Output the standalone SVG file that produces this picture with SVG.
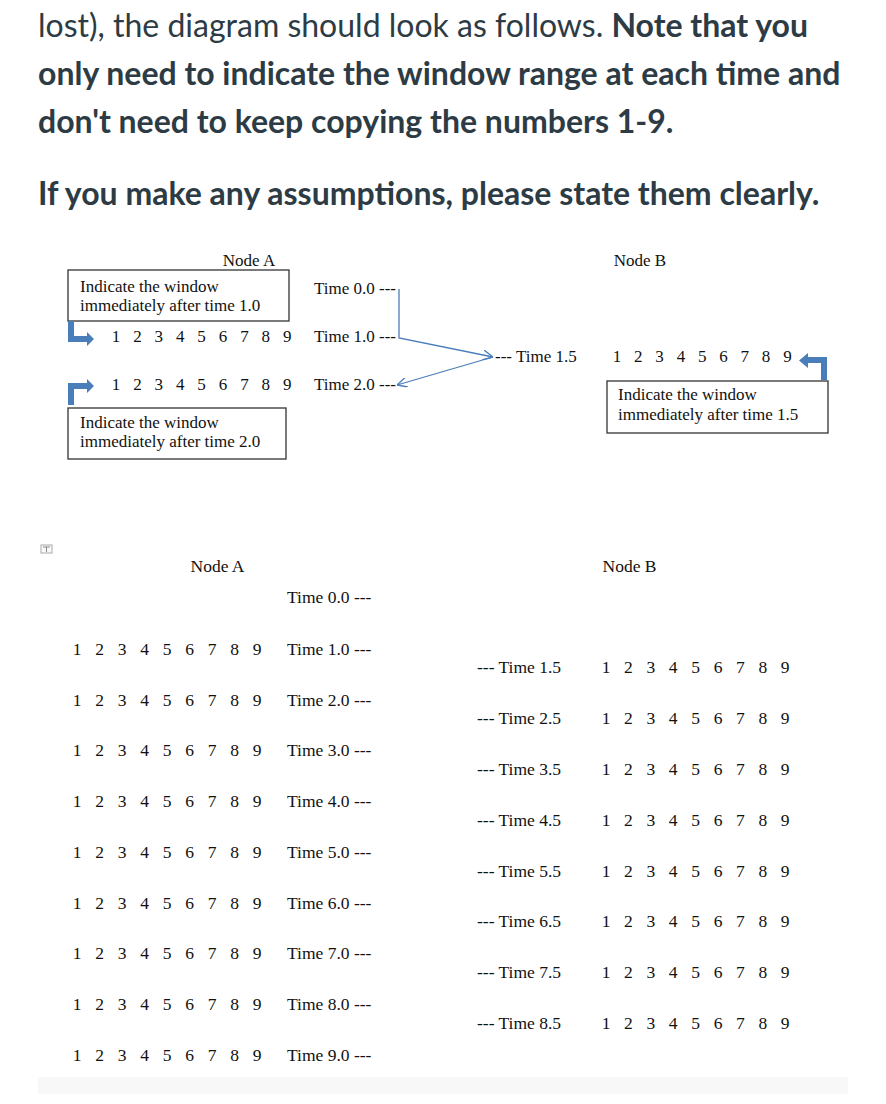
<svg xmlns="http://www.w3.org/2000/svg" width="886" height="1104" viewBox="0 0 886 1104">
<defs>
<style>
.p{font-family:Lato,"Noto Sans",sans-serif;font-size:32px;fill:#2d3b45}
.b{font-weight:bold}
.t{font-family:"Liberation Serif","Times New Roman",serif;font-size:17px;fill:#111}
.t2{font-family:"Liberation Serif","Times New Roman",serif;font-size:17.5px;fill:#111}
.box{fill:#fff;stroke:#333;stroke-width:1.3}
.conn{fill:none;stroke:#4a7ebb;stroke-width:1.3}
.bent{fill:#4a7ebb}
</style>
<marker id="open" viewBox="0 0 10 10" refX="10" refY="5" markerWidth="10" markerHeight="10" markerUnits="userSpaceOnUse" orient="auto">
<path d="M0,0 L10,5 L0,10" fill="none" stroke="#4a7ebb" stroke-width="1.3"/>
</marker>
</defs>
<rect width="886" height="1104" fill="#fff"/>

<g id="intro">
<text class="p" x="38" y="37">lost), the diagram should look as follows. <tspan class="b">Note that you</tspan></text>
<text class="p b" x="38" y="85">only need to indicate the window range at each time and</text>
<text class="p b" x="38" y="133">don't need to keep copying the numbers 1-9.</text>
<text class="p b" x="38" y="205">If you make any assumptions, please state them clearly.</text>
</g>

<g id="top-nodeA">
<text class="t" x="249" y="266" text-anchor="middle">Node A</text>
<text class="t" x="314" y="294">Time 0.0 ---</text>
<text class="t" x="314" y="342">Time 1.0 ---</text>
<text class="t" x="314" y="390">Time 2.0 ---</text>
<g text-anchor="middle">
<text class="t" y="342"><tspan x="116">1</tspan><tspan x="137.4">2</tspan><tspan x="158.8">3</tspan><tspan x="180.2">4</tspan><tspan x="201.6">5</tspan><tspan x="223">6</tspan><tspan x="244.4">7</tspan><tspan x="265.8">8</tspan><tspan x="287.2">9</tspan></text>
<text class="t" y="390"><tspan x="116">1</tspan><tspan x="137.4">2</tspan><tspan x="158.8">3</tspan><tspan x="180.2">4</tspan><tspan x="201.6">5</tspan><tspan x="223">6</tspan><tspan x="244.4">7</tspan><tspan x="265.8">8</tspan><tspan x="287.2">9</tspan></text>
</g>
</g>

<g id="box-1-0">
<rect class="box" x="68" y="270" width="221" height="51"/>
<text class="t" x="80" y="292">Indicate the window</text>
<text class="t" x="80" y="311">immediately after time 1.0</text>
</g>

<g id="box-2-0">
<rect class="box" x="68" y="408" width="218" height="51"/>
<text class="t" x="80" y="428">Indicate the window</text>
<text class="t" x="80" y="447">immediately after time 2.0</text>
</g>

<g id="top-nodeB">
<text class="t" x="640" y="266" text-anchor="middle">Node B</text>
<text class="t" x="495" y="362">--- Time 1.5</text>
<text class="t" y="362" text-anchor="middle"><tspan x="617">1</tspan><tspan x="638.3">2</tspan><tspan x="659.6">3</tspan><tspan x="680.9">4</tspan><tspan x="702.2">5</tspan><tspan x="723.5">6</tspan><tspan x="744.8">7</tspan><tspan x="766.1">8</tspan><tspan x="787.4">9</tspan></text>
</g>

<g id="box-1-5">
<rect class="box" x="607" y="381" width="221" height="52"/>
<text class="t" x="618" y="400">Indicate the window</text>
<text class="t" x="618" y="420">immediately after time 1.5</text>
</g>

<g id="connectors">
<path class="conn" d="M399,289 V338 L493,357" marker-end="url(#open)"/>
<path class="conn" d="M493,357 L397,385" marker-end="url(#open)"/>
<path class="bent" d="M68,321 H74 V336 H87 V332 L94,339 L87,346 V342 H68 Z"/>
<path class="bent" d="M68,405 V383 H87 V379 L94,386 L87,393 V389 H74 V405 Z"/>
<path class="bent" d="M827,380 H821 V363 H808 V368 L799,360.5 L808,353 V357 H827 Z"/>
</g>

<g id="move-icon">
<rect x="41" y="545" width="11" height="8" fill="#fafafa" stroke="#aaa" stroke-width="1"/>
<path d="M43,547 H50 M46.5,547 V552" stroke="#888" stroke-width="1"/>
</g>

<g id="bottom-nodeA">
<text class="t2" x="217.5" y="572" text-anchor="middle">Node A</text>
<text class="t2" x="287" y="603">Time 0.0 ---</text>
<text class="t2" x="287" y="655">Time 1.0 ---</text>
<text class="t2" x="287" y="706">Time 2.0 ---</text>
<text class="t2" x="287" y="756">Time 3.0 ---</text>
<text class="t2" x="287" y="807">Time 4.0 ---</text>
<text class="t2" x="287" y="858">Time 5.0 ---</text>
<text class="t2" x="287" y="909">Time 6.0 ---</text>
<text class="t2" x="287" y="959">Time 7.0 ---</text>
<text class="t2" x="287" y="1010">Time 8.0 ---</text>
<text class="t2" x="287" y="1061">Time 9.0 ---</text>
<g text-anchor="middle">
<text class="t2" y="655"><tspan x="77">1</tspan><tspan x="99.5">2</tspan><tspan x="122">3</tspan><tspan x="144.5">4</tspan><tspan x="167">5</tspan><tspan x="189.5">6</tspan><tspan x="212">7</tspan><tspan x="234.5">8</tspan><tspan x="257">9</tspan></text>
<text class="t2" y="706"><tspan x="77">1</tspan><tspan x="99.5">2</tspan><tspan x="122">3</tspan><tspan x="144.5">4</tspan><tspan x="167">5</tspan><tspan x="189.5">6</tspan><tspan x="212">7</tspan><tspan x="234.5">8</tspan><tspan x="257">9</tspan></text>
<text class="t2" y="756"><tspan x="77">1</tspan><tspan x="99.5">2</tspan><tspan x="122">3</tspan><tspan x="144.5">4</tspan><tspan x="167">5</tspan><tspan x="189.5">6</tspan><tspan x="212">7</tspan><tspan x="234.5">8</tspan><tspan x="257">9</tspan></text>
<text class="t2" y="807"><tspan x="77">1</tspan><tspan x="99.5">2</tspan><tspan x="122">3</tspan><tspan x="144.5">4</tspan><tspan x="167">5</tspan><tspan x="189.5">6</tspan><tspan x="212">7</tspan><tspan x="234.5">8</tspan><tspan x="257">9</tspan></text>
<text class="t2" y="858"><tspan x="77">1</tspan><tspan x="99.5">2</tspan><tspan x="122">3</tspan><tspan x="144.5">4</tspan><tspan x="167">5</tspan><tspan x="189.5">6</tspan><tspan x="212">7</tspan><tspan x="234.5">8</tspan><tspan x="257">9</tspan></text>
<text class="t2" y="909"><tspan x="77">1</tspan><tspan x="99.5">2</tspan><tspan x="122">3</tspan><tspan x="144.5">4</tspan><tspan x="167">5</tspan><tspan x="189.5">6</tspan><tspan x="212">7</tspan><tspan x="234.5">8</tspan><tspan x="257">9</tspan></text>
<text class="t2" y="959"><tspan x="77">1</tspan><tspan x="99.5">2</tspan><tspan x="122">3</tspan><tspan x="144.5">4</tspan><tspan x="167">5</tspan><tspan x="189.5">6</tspan><tspan x="212">7</tspan><tspan x="234.5">8</tspan><tspan x="257">9</tspan></text>
<text class="t2" y="1010"><tspan x="77">1</tspan><tspan x="99.5">2</tspan><tspan x="122">3</tspan><tspan x="144.5">4</tspan><tspan x="167">5</tspan><tspan x="189.5">6</tspan><tspan x="212">7</tspan><tspan x="234.5">8</tspan><tspan x="257">9</tspan></text>
<text class="t2" y="1061"><tspan x="77">1</tspan><tspan x="99.5">2</tspan><tspan x="122">3</tspan><tspan x="144.5">4</tspan><tspan x="167">5</tspan><tspan x="189.5">6</tspan><tspan x="212">7</tspan><tspan x="234.5">8</tspan><tspan x="257">9</tspan></text>
</g>
</g>

<g id="bottom-nodeB">
<text class="t2" x="629.5" y="572" text-anchor="middle">Node B</text>
<text class="t2" x="477" y="673">--- Time 1.5</text>
<text class="t2" x="477" y="724">--- Time 2.5</text>
<text class="t2" x="477" y="775">--- Time 3.5</text>
<text class="t2" x="477" y="826">--- Time 4.5</text>
<text class="t2" x="477" y="877">--- Time 5.5</text>
<text class="t2" x="477" y="927">--- Time 6.5</text>
<text class="t2" x="477" y="978">--- Time 7.5</text>
<text class="t2" x="477" y="1029">--- Time 8.5</text>
<g text-anchor="middle">
<text class="t2" y="673"><tspan x="606">1</tspan><tspan x="628.4">2</tspan><tspan x="650.8">3</tspan><tspan x="673.2">4</tspan><tspan x="695.6">5</tspan><tspan x="718">6</tspan><tspan x="740.4">7</tspan><tspan x="762.8">8</tspan><tspan x="785.2">9</tspan></text>
<text class="t2" y="724"><tspan x="606">1</tspan><tspan x="628.4">2</tspan><tspan x="650.8">3</tspan><tspan x="673.2">4</tspan><tspan x="695.6">5</tspan><tspan x="718">6</tspan><tspan x="740.4">7</tspan><tspan x="762.8">8</tspan><tspan x="785.2">9</tspan></text>
<text class="t2" y="775"><tspan x="606">1</tspan><tspan x="628.4">2</tspan><tspan x="650.8">3</tspan><tspan x="673.2">4</tspan><tspan x="695.6">5</tspan><tspan x="718">6</tspan><tspan x="740.4">7</tspan><tspan x="762.8">8</tspan><tspan x="785.2">9</tspan></text>
<text class="t2" y="826"><tspan x="606">1</tspan><tspan x="628.4">2</tspan><tspan x="650.8">3</tspan><tspan x="673.2">4</tspan><tspan x="695.6">5</tspan><tspan x="718">6</tspan><tspan x="740.4">7</tspan><tspan x="762.8">8</tspan><tspan x="785.2">9</tspan></text>
<text class="t2" y="877"><tspan x="606">1</tspan><tspan x="628.4">2</tspan><tspan x="650.8">3</tspan><tspan x="673.2">4</tspan><tspan x="695.6">5</tspan><tspan x="718">6</tspan><tspan x="740.4">7</tspan><tspan x="762.8">8</tspan><tspan x="785.2">9</tspan></text>
<text class="t2" y="927"><tspan x="606">1</tspan><tspan x="628.4">2</tspan><tspan x="650.8">3</tspan><tspan x="673.2">4</tspan><tspan x="695.6">5</tspan><tspan x="718">6</tspan><tspan x="740.4">7</tspan><tspan x="762.8">8</tspan><tspan x="785.2">9</tspan></text>
<text class="t2" y="978"><tspan x="606">1</tspan><tspan x="628.4">2</tspan><tspan x="650.8">3</tspan><tspan x="673.2">4</tspan><tspan x="695.6">5</tspan><tspan x="718">6</tspan><tspan x="740.4">7</tspan><tspan x="762.8">8</tspan><tspan x="785.2">9</tspan></text>
<text class="t2" y="1029"><tspan x="606">1</tspan><tspan x="628.4">2</tspan><tspan x="650.8">3</tspan><tspan x="673.2">4</tspan><tspan x="695.6">5</tspan><tspan x="718">6</tspan><tspan x="740.4">7</tspan><tspan x="762.8">8</tspan><tspan x="785.2">9</tspan></text>
</g>
</g>

<rect id="footer-band" x="38" y="1077" width="810" height="17" fill="#f8f8f8"/>
</svg>
